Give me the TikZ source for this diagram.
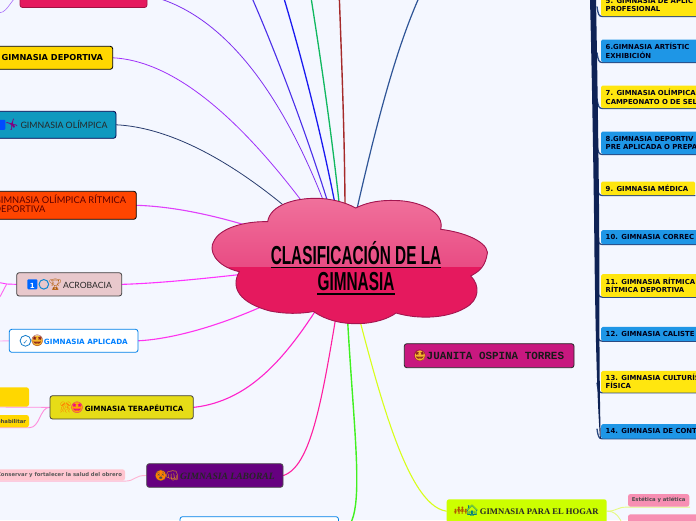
\documentclass[tikz,border=0pt]{standalone}
\usepackage{fontspec}
\usetikzlibrary{calc}
\setmainfont{DejaVu Sans}
\newfontfamily\emojif{Noto Emoji}
\newfontfamily\deco{Lato}
\newfontfamily\decoserif{Liberation Serif}
\newfontfamily\courb{Liberation Mono}
\newfontfamily\titlef{Liberation Sans}[FakeStretch=0.59]
\definecolor{bgc}{HTML}{F4F7FF}
\definecolor{spine}{HTML}{0E2255}
\definecolor{under}{HTML}{2B4A82}
\definecolor{yel}{HTML}{FFE60F}
\definecolor{gold}{HTML}{FFD700}
\definecolor{blu}{HTML}{1E96E6}
\definecolor{cloudb}{HTML}{E5195E}
\definecolor{cloudt}{HTML}{F0729C}
\definecolor{cloudm}{HTML}{E94C84}
\definecolor{cloude}{HTML}{A31650}
\definecolor{facey}{HTML}{F5B82E}
\definecolor{facer}{HTML}{E5322D}
\pgfdeclarelayer{bgl}\pgfdeclarelayer{conn}\pgfdeclarelayer{cloudl}
\pgfsetlayers{bgl,conn,cloudl,main}
% main box: name, x1,y1,x2,y2, style, content
\newcommand{\bx}[7]{%
  \pgfmathsetmacro{\bw}{#4-#2}\pgfmathsetmacro{\bh}{#5-#3}%
  \pgfmathsetmacro{\bcx}{(#2+#4)/2}\pgfmathsetmacro{\bcy}{(#3+#5)/2}%
  \node[mbox,#6,minimum width=\bw pt,minimum height=\bh pt] (#1) at (\bcx,\bcy) {#7};}
% right-column box: name, y1, y2, colour, content
\newcommand{\rb}[5]{%
  \pgfmathsetmacro{\bh}{#3-#2}%
  \node[rbox,fill=#4,minimum height=\bh pt] (#1) at (601,#2) {#5};
  \begin{pgfonlayer}{conn}
  \draw[branch] ($(#1.south west)+(-4,-10)$) .. controls ($(#1.south west)+(-3,-2)$) and ($(#1.south west)+(-2,0)$) .. ($(#1.south west)+(1,0)$) -- (#1.south east);
  \end{pgfonlayer}}
\newcommand{\ico}[3]{\makebox[11.5pt]{\makebox[0pt]{\tikz[baseline=-3.8pt]\fill[#1](0,0)circle(5.4pt);}\makebox[0pt]{\emojif\fontsize{11}{11}\selectfont\textcolor{#2}{#3}}}}
\newcommand{\plain}[2]{\makebox[11.5pt]{\emojif\fontsize{11}{11}\selectfont\textcolor{#1}{#2}}}
\newcommand{\sq}[1]{\makebox[11.5pt]{\tikz[baseline=-3.8pt]\fill[#1,rounded corners=1pt](-5pt,-5pt)rectangle(5pt,5pt);}}
\newcommand{\ring}[1]{\makebox[11.5pt]{\tikz[baseline=-3.8pt]\draw[#1,line width=1pt](0,0)circle(4.8pt);}}
\newcommand{\keyone}{\makebox[11.5pt]{\makebox[0pt]{\tikz[baseline=-3.8pt]\fill[blue!60!cyan,rounded corners=1pt](-5pt,-5pt)rectangle(5pt,5pt);}\makebox[0pt]{\fontsize{7}{7}\selectfont\bfseries\textcolor{white}{1}}}}
\newcommand{\checkcirc}{\makebox[12pt]{\makebox[0pt]{\tikz[baseline=-3.8pt]\draw[cyan!60!blue,line width=.8pt](0,0)circle(5.4pt);}\makebox[0pt]{\fontsize{6.5}{7}\selectfont\textcolor{cyan!60!blue}{✓}}}}
\tikzset{
  mbox/.style={draw=black,line width=.8pt,rounded corners=2.5pt,inner sep=0pt,align=left},
  rbox/.style={anchor=north west,rounded corners=1.5pt,text width=200pt,inner xsep=4.5pt,inner ysep=0pt,align=left,
     font=\bfseries\fontsize{6.9}{8.2}\selectfont,text=black!90!blue},
  branch/.style={draw=under,line width=1.3pt},
  conline/.style={line width=1.1pt,line cap=round},
  sub/.style={line width=.9pt,line cap=round}
}
\begin{document}
\begin{tikzpicture}[x=1pt,y=-1pt]
\useasboundingbox (0,0) rectangle (696,520);
\clip (0,0) rectangle (696,520);
\begin{pgfonlayer}{bgl}
\fill[bgc] (0,0) rectangle (696,520);
\end{pgfonlayer}
\coordinate (hub) at (345,262);

% ---- left column
\bx{top}{20}{-17}{147}{7.5}{fill=cloudb,draw=black!30!cloudb}{\hspace*{-80pt}\raisebox{12pt}{\sq{blue!70!cyan}\hspace{2pt}\sq{orange!80!yellow}}}
\bx{dep}{-8}{46.3}{112.7}{69.3}{fill=gold}{\bfseries\fontsize{8.2}{9}\selectfont GIMNASIA DEPORTIVA}
\bx{oli}{-14}{111.3}{116}{138.3}{draw=black!70!blue,fill={rgb,255:red,16;green,153;blue,191}}{\sq{blue!70!cyan}\plain{violet}{🤸}\hspace{3pt}{\deco\fontsize{8.8}{10}\selectfont\color{black!85}GIMNASIA OLÍMPICA}}
\bx{orr}{-18}{191.3}{136.3}{219.3}{fill={rgb,255:red,255;green,69;blue,0}}{\makebox[130pt][l]{\deco\fontsize{9.3}{8.4}\selectfont\color{black!40!red!60!black}\begin{tabular}{@{}l@{}}GIMNASIA OLÍMPICA RÍTMICA\\DEPORTIVA\end{tabular}}}
\bx{acr}{16.7}{272.7}{121.7}{296}{fill={rgb,255:red,232;green,200;blue,204},draw=black!75}{\keyone\ring{cyan!70!blue}\plain{orange!70!black}{🏆}\hspace{2pt}{\deco\fontsize{8.6}{9}\selectfont\color{black!85}ACROBACIA}}
\bx{apl}{9.3}{329.3}{138}{352.3}{fill=white,draw={rgb,255:red,0;green,128;blue,232}}{\checkcirc\ico{facey}{facer!60!black}{🤩}\hspace{1pt}{\bfseries\fontsize{7.2}{8}\selectfont\color{blue!50!cyan}GIMNASIA APLICADA}}
\bx{ter}{50}{395.7}{193.3}{419}{fill={rgb,255:red,230;green,220;blue,23},draw=black!75}{\plain{orange}{🎊}\ico{orange!70!yellow}{magenta}{🤩}\hspace{2pt}{\bfseries\fontsize{7.2}{8}\selectfont GIMNASIA TERAPÉUTICA}}
\bx{lab}{146.7}{463.7}{283}{487.3}{fill={rgb,255:red,102;green,0;blue,128},draw=black!70}{\ico{orange}{black!70}{😵}\plain{orange!50!yellow}{👊}\hspace{2pt}{\decoserif\itshape\bfseries\fontsize{9.6}{10}\selectfont\color{black!85}GIMNASIA LABORAL}}
\bx{ter1}{-20}{387.3}{29}{406.7}{fill=gold,draw=none}{\hspace*{-46pt}\raisebox{4pt}{\fontsize{5.3}{6}\selectfont\bfseries r}}
\bx{ter2}{-30}{415}{29}{427.3}{fill=gold,draw=none}{\hspace*{20pt}\fontsize{5.3}{6}\selectfont\bfseries\color{black!75}Rehabilitar}
\bx{labc}{-20}{469.3}{125}{480.7}{fill={rgb,255:red,255;green,198;blue,208},draw=none}{\hspace*{14pt}\fontsize{5.3}{6}\selectfont\bfseries\color{black!65}Conservar y fortalecer la salud del obrero}

% ---- bottom
\bx{bot}{180}{516.7}{338.5}{545}{fill=white,draw={rgb,255:red,0;green,128;blue,232}}{}
\bx{hog}{446.7}{499.3}{606.7}{523}{fill={rgb,255:red,204;green,255;blue,0},draw=none}{\plain{orange!70!black}{👪}\plain{teal}{🏠}\hspace{2pt}{\decoserif\bfseries\fontsize{8.6}{9}\selectfont\color{black!85}GIMNASIA PARA EL HOGAR}}
\bx{est}{628}{494}{689.3}{506.7}{fill={rgb,255:red,247;green,143;blue,179},draw=none}{\fontsize{5.3}{6}\selectfont\bfseries\color{black!70}Estética y atlética}
\bx{eje}{628}{514.3}{720}{535}{fill={rgb,255:red,247;green,143;blue,179},draw=none}{}
\bx{jua}{404.3}{343.7}{574}{367.7}{fill={rgb,255:red,200;green,24;blue,127},draw=black!85}{\ico{facey}{facer!60!black}{🤩}\hspace{1pt}{\courb\bfseries\fontsize{10.9}{11}\selectfont\color{black!90}JUANITA OSPINA TORRES}}

% ---- free ends
\coordinate (fa) at (232,-45);
\coordinate (fb) at (272,-40);
\coordinate (fc) at (305,-40);
\coordinate (fd) at (338,-40);
\coordinate (fe) at (430,-25);
\coordinate (ff) at (0,12.7);
\coordinate (fh) at (0,282.7);
\coordinate (fi) at (0,296.7);
\coordinate (fj) at (6.7,284);
\coordinate (fk) at (0,341);
\coordinate (fl) at (0,407);

% ---- right column
\rb{r5}{-7}{16}{yel}{5. GIMNASIA DE APLIC\\PROFESIONAL}
\rb{r6}{39.3}{62}{blu}{6.GIMNASIA ARTÍSTIC\\EXHIBICIÓN}
\rb{r7}{85.3}{108}{yel}{7. GIMNASIA OLÍMPICA\\CAMPEONATO O DE SEL}
\rb{r8}{131.3}{154}{blu}{8.GIMNASIA DEPORTIV\\PRE APLICADA O PREPA}
\node[rbox,fill=yel,text width=85pt,minimum height=13.7pt] (r9) at (601,181.3) {9. GIMNASIA MÉDICA};
\begin{pgfonlayer}{conn}
\draw[branch] ($(r9.south west)+(-4,-10)$) .. controls ($(r9.south west)+(-3,-2)$) and ($(r9.south west)+(-2,0)$) .. ($(r9.south west)+(1,0)$) -- (r9.south east);
\end{pgfonlayer}
\rb{r10}{230}{244}{blu}{10. GIMNASIA CORREC}
\rb{r11}{274}{296.7}{yel}{11. GIMNASIA RÍTMICA\\RÍTMICA DEPORTIVA}
\rb{r12}{326.7}{340.7}{blu}{12. GIMNASIA CALISTE}
\rb{r13}{370.7}{392.3}{yel}{13. GIMNASIA CULTURÍS\\FÍSICA}
\rb{r14}{424}{438.3}{blu}{14. GIMNASIA DE CONT}

\begin{pgfonlayer}{conn}
% tapered trunk of the right column
\fill[spine] (590,-10) -- (590,0) .. controls (592,77) and (594,200) .. (594.5,258)
  .. controls (595.5,325) and (596.5,390) .. (600,438.5) -- (600.8,438.5)
  .. controls (599.5,400) and (599.3,325) .. (599.3,258)
  .. controls (599.3,200) and (597.5,77) .. (596,0) -- (596,-10) -- cycle;
% connectors to the central cloud
\draw[conline,line width=.8pt,draw={rgb,255:red,128;green,48;blue,240}] (top.east) .. controls (235,15) and (300,120) .. (hub);
\draw[conline,line width=.8pt,draw={rgb,255:red,160;green,48;blue,250}] (dep.east) .. controls (190,62) and (270,150) .. (hub);
\draw[conline,line width=.8pt,draw={rgb,255:red,40;green,60;blue,110}] (oli.east) .. controls (180,128) and (260,175) .. (hub);
\draw[conline,draw={rgb,255:red,224;green,64;blue,251}] (orr.east) .. controls (190,207) and (260,225) .. (hub);
\draw[conline,draw={rgb,255:red,255;green,51;blue,255}] (acr.east) .. controls (170,283) and (240,275) .. (hub);
\draw[conline,draw={rgb,255:red,255;green,51;blue,238}] (apl.east) .. controls (190,338) and (270,310) .. (hub);
\draw[conline,draw={rgb,255:red,255;green,34;blue,204}] (ter.east) .. controls (260,400) and (300,340) .. (hub);
\draw[conline,draw={rgb,255:red,255;green,31;blue,160}] (lab.east) .. controls (315,465) and (325,380) .. (hub);
\draw[conline,line width=1.4pt,draw={rgb,255:red,64;green,240;blue,32}] (bot.east) .. controls (372,531) and (350,420) .. (hub);
\draw[conline,draw={rgb,255:red,216;green,255;blue,26}] (hog.west) .. controls (405,505) and (375,380) .. (hub);
\draw[conline,draw={rgb,255:red,74;green,47;blue,232}] (fa) .. controls (265,20) and (320,165) .. (hub);
\draw[conline,line width=1.3pt,draw={rgb,255:red,26;green,26;blue,240}] (fb) .. controls (295,30) and (330,160) .. (hub);
\draw[conline,line width=1.3pt,draw={rgb,255:red,16;green,184;blue,96}] (fc) .. controls (318,40) and (335,150) .. (hub);
\draw[conline,line width=1.4pt,draw={rgb,255:red,165;green,42;blue,42}] (fd) .. controls (341,50) and (346,150) .. (hub);
\draw[conline,line width=1.2pt,draw={rgb,255:red,47;green,85;blue,151}] (fe) .. controls (395,40) and (370,150) .. (hub);
% small branches
\draw[sub,line width=.6pt,draw={rgb,255:red,170;green,110;blue,250}] (top.west) .. controls (12,-3) and (8,12) .. (ff);
\draw[sub,draw={rgb,255:red,255;green,51;blue,255}] (acr.west) -- (fj) -- (fh);
\draw[sub,draw={rgb,255:red,255;green,100;blue,240}] (fj) -- (fi);
\draw[sub,draw={rgb,255:red,255;green,170;blue,240}] (apl.west) -- (fk);
\draw[sub,draw={rgb,255:red,255;green,140;blue,220}] (ter.west) -- (fl);
\draw[sub,draw={rgb,255:red,255;green,140;blue,220}] (ter.west) .. controls (40,407) and (40,427.8) .. (ter2.south east) -- (ter2.south west);
\draw[sub,draw={rgb,255:red,255;green,180;blue,210}] (lab.west) .. controls (135,475) and (135,481) .. (labc.south east) -- (labc.south west);
\draw[sub,draw={rgb,255:red,230;green,250;blue,130}] (hog.east) .. controls (618,511) and (616,507) .. (est.south west) -- (est.south east);
\draw[sub,draw={rgb,255:red,230;green,250;blue,130}] (hog.east) .. controls (620,511) and (622,525) .. (eje.south west);
\end{pgfonlayer}

% ---- central cloud
\def\cloudpath{(355.7,208) .. controls (372,200) and (388,200) .. (400,200.7)
  .. controls (420,202) and (445,212) .. (440.7,229.3)
  .. controls (470,233) and (492,245) .. (486.7,256.7)
  .. controls (484,268) and (478,272) .. (470.7,276)
  .. controls (480,285) and (480,300) .. (465,308)
  .. controls (448,318) and (420,320) .. (396,313)
  .. controls (380,325) and (340,330) .. (313.5,311.5)
  .. controls (300,314) and (285,314) .. (270,311)
  .. controls (240,303) and (230,288) .. (239.3,271.7)
  .. controls (215,266) and (208,250) .. (214,241)
  .. controls (220,228) and (245,221) .. (267.7,221.7)
  .. controls (270,205) and (295,198) .. (316.7,198.3)
  .. controls (330,198.5) and (345,202) .. (355.7,208) -- cycle}
\begin{pgfonlayer}{cloudl}
\fill[cloudb] \cloudpath;
\begin{scope}
\clip \cloudpath;
\shade[top color=cloudt,bottom color=cloudm] (200,196) rectangle (500,266);
\end{scope}
\draw[cloude,line width=.9pt] \cloudpath;
\end{pgfonlayer}
\node[inner sep=0pt,font=\titlef\bfseries\fontsize{26}{26}\selectfont] (t1) at (356,253) {CLASIFICACIÓN DE LA};
\node[inner sep=0pt,font=\titlef\bfseries\fontsize{26}{26}\selectfont] (t2) at (356,282) {GIMNASIA};
\draw[line width=1.4pt] ($(t1.base west)+(0,3)$) -- ($(t1.base east)+(0,3)$);
\draw[line width=1.4pt] ($(t2.base west)+(0,3)$) -- ($(t2.base east)+(0,3)$);
\end{tikzpicture}
\end{document}
